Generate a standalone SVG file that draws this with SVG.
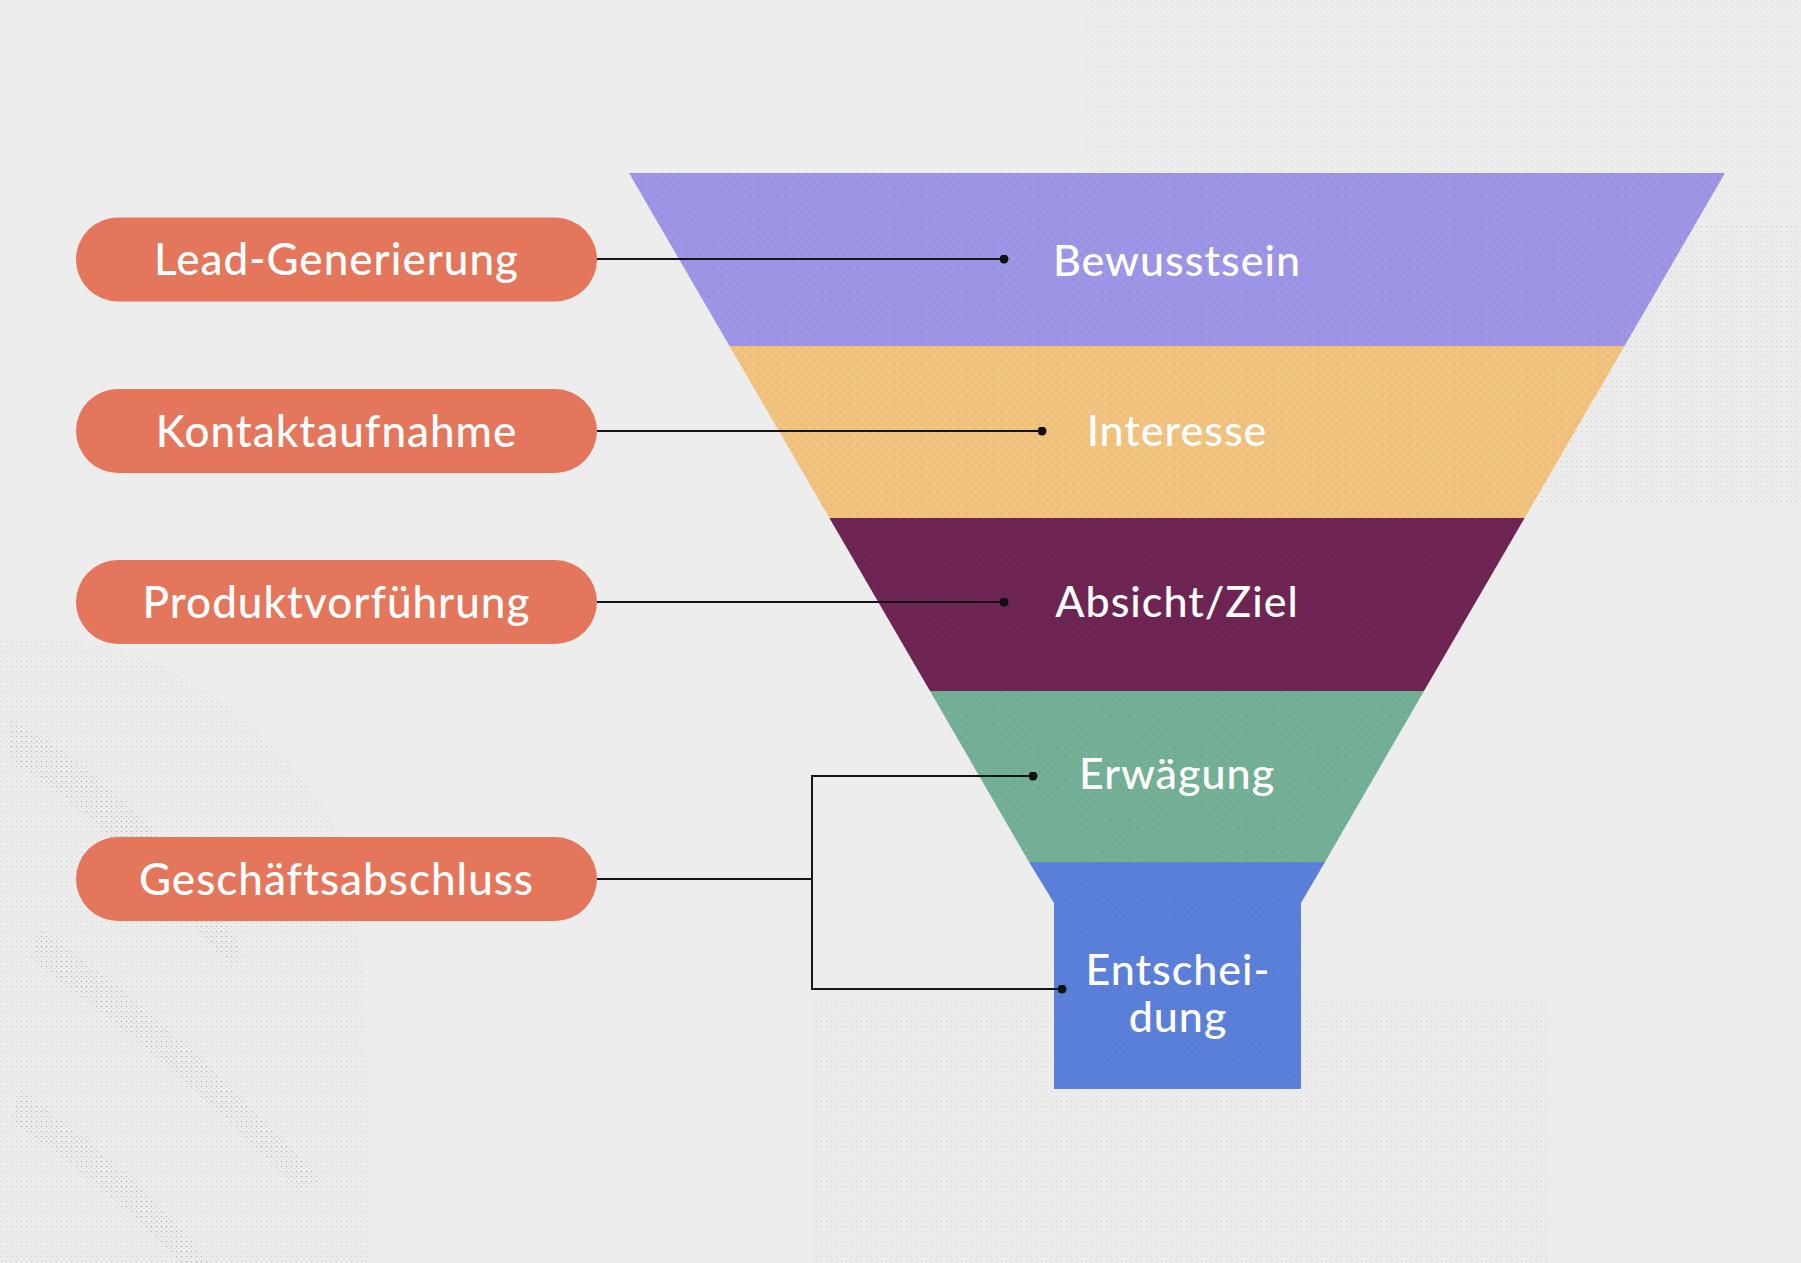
<svg xmlns="http://www.w3.org/2000/svg" width="1801" height="1263" viewBox="0 0 1801 1263">
  <defs>
    <pattern id="dots" width="6" height="6" patternUnits="userSpaceOnUse" patternTransform="rotate(45)">
      <circle cx="3" cy="3" r="1.1" fill="#000"/>
    </pattern>
    <pattern id="grain" width="5" height="5" patternUnits="userSpaceOnUse">
      <circle cx="1.5" cy="1.5" r="0.8" fill="#9a9a9a"/>
      <circle cx="4" cy="3.5" r="0.5" fill="#b0b0b0"/>
    </pattern>
    <marker id="dot" viewBox="0 0 10 10" refX="5" refY="5" markerWidth="4.5" markerHeight="4.5" markerUnits="strokeWidth">
      <circle cx="5" cy="5" r="5" fill="#111"/>
    </marker>
  </defs>
  <style>
    .pill { fill: #e4765c; }
    .plabel { font-family: Lato, "Liberation Sans", sans-serif; font-size: 44px; fill: #ffffff; text-anchor: middle; letter-spacing: 1px; font-weight: 500; }
    .flabel { font-family: Lato, "Liberation Sans", sans-serif; font-size: 43px; fill: #ffffff; text-anchor: middle; letter-spacing: 1px; font-weight: 500; }
    .conn { fill: none; stroke: #141414; stroke-width: 2; }
    .tex { fill: url(#dots); opacity: 0.07; }
  </style>

  <!-- background -->
  <rect x="0" y="0" width="1801" height="1263" fill="#eeeded"/>
  <g id="background-texture">
    <rect x="1086" y="0" width="715" height="225" fill="url(#grain)" opacity="0.18"/>
    <rect x="1540" y="225" width="261" height="280" fill="url(#grain)" opacity="0.35"/>
    <rect x="812" y="1000" width="739" height="263" fill="url(#grain)" opacity="0.25"/>
    <path d="M0,640 C120,620 260,700 330,820 C360,880 370,960 368,1263 L0,1263 Z" fill="url(#grain)" opacity="0.3"/>
    <path d="M10,720 C90,760 170,840 230,930 C250,960 240,975 215,950 C160,880 80,800 10,760 Z M40,930 C130,990 230,1080 320,1180 L300,1190 C220,1110 120,1020 30,960 Z M20,1090 C90,1140 160,1200 210,1263 L180,1263 C130,1210 70,1160 10,1120 Z" fill="url(#grain)" opacity="0.55"/>
  </g>

  <!-- funnel -->
  <g id="stage-bewusstsein">
    <polygon points="629,173 1725,173 1624.5,346 729.5,346" fill="#9d95e6"/>
    <polygon points="629,173 1725,173 1624.5,346 729.5,346" class="tex"/>
    <text class="flabel" x="1177" y="276">Bewusstsein</text>
  </g>
  <g id="stage-interesse">
    <polygon points="729.5,346 1624.5,346 1524.6,518 829.4,518" fill="#f1c37e"/>
    <polygon points="729.5,346 1624.5,346 1524.6,518 829.4,518" class="tex"/>
    <text class="flabel" x="1177" y="446">Interesse</text>
  </g>
  <g id="stage-absicht">
    <polygon points="829.4,518 1524.6,518 1424,691 930,691" fill="#6e2553"/>
    <polygon points="829.4,518 1524.6,518 1424,691 930,691" class="tex"/>
    <text class="flabel" x="1177" y="617">Absicht/Ziel</text>
  </g>
  <g id="stage-erwaegung">
    <polygon points="930,691 1424,691 1325,862 1029,862" fill="#73b096"/>
    <polygon points="930,691 1424,691 1325,862 1029,862" class="tex"/>
    <text class="flabel" x="1177" y="789">Erwägung</text>
  </g>
  <g id="stage-entscheidung">
    <polygon points="1029,862 1325,862 1301,903 1301,1089 1054,1089 1054,903" fill="#5b80d9"/>
    <polygon points="1029,862 1325,862 1301,903 1301,1089 1054,1089 1054,903" class="tex"/>
    <text class="flabel" x="1178" y="985">Entschei-</text>
    <text class="flabel" x="1178" y="1032">dung</text>
  </g>

  <!-- pills -->
  <g id="pill-lead">
    <rect class="pill" x="76" y="217.5" width="521" height="84" rx="42"/>
    <text class="plabel" x="336.5" y="275">Lead-Generierung</text>
  </g>
  <g id="pill-kontakt">
    <rect class="pill" x="76" y="389" width="521" height="84" rx="42"/>
    <text class="plabel" x="336.5" y="447">Kontaktaufnahme</text>
  </g>
  <g id="pill-produkt">
    <rect class="pill" x="76" y="560" width="521" height="84" rx="42"/>
    <text class="plabel" x="336.5" y="618">Produktvorführung</text>
  </g>
  <g id="pill-abschluss">
    <rect class="pill" x="76" y="837" width="521" height="84" rx="42"/>
    <text class="plabel" x="336.5" y="895">Geschäftsabschluss</text>
  </g>

  <!-- connectors -->
  <g id="connectors">
    <line class="conn" x1="597" y1="259" x2="1004" y2="259" marker-end="url(#dot)"/>
    <line class="conn" x1="597" y1="431" x2="1042" y2="431" marker-end="url(#dot)"/>
    <line class="conn" x1="597" y1="602" x2="1004" y2="602" marker-end="url(#dot)"/>
    <line class="conn" x1="597" y1="879" x2="812" y2="879"/>
    <line class="conn" x1="812" y1="775" x2="812" y2="990"/>
    <line class="conn" x1="811" y1="776" x2="1033" y2="776" marker-end="url(#dot)"/>
    <line class="conn" x1="811" y1="989" x2="1062" y2="989" marker-end="url(#dot)"/>
  </g>
</svg>
